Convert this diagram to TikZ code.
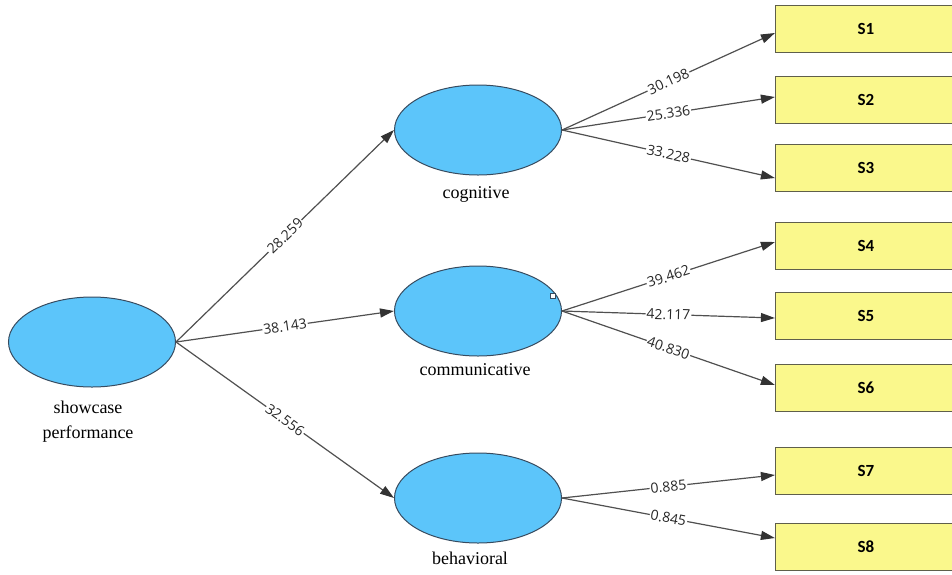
\documentclass[tikz,border=0pt]{standalone}
\usepackage{fontspec}
\setmainfont{Liberation Serif}
\newfontfamily\numfont{Open Sans}
\newfontfamily\boxfont{Carlito}
\usetikzlibrary{shapes.geometric,arrows.meta}
\definecolor{latentblue}{RGB}{92,197,250}
\definecolor{latentedge}{RGB}{55,75,95}
\definecolor{itemyellow}{RGB}{250,248,140}
\definecolor{itemedge}{RGB}{95,95,75}
\definecolor{edgegray}{RGB}{80,80,80}
\tikzset{
  latent/.style={ellipse,draw=latentedge,line width=1pt,fill=latentblue,
    minimum width=167pt,minimum height=90pt,inner sep=0pt},
  item/.style={rectangle,draw=itemedge,line width=1.2pt,fill=itemyellow,
    minimum width=181pt,minimum height=47pt,
    font=\boxfont\bfseries\fontsize{17}{18}\selectfont},
  path/.style={draw=edgegray,line width=1.2pt,
    -{Triangle[length=14pt,width=9pt,color=black!80]}},
  coef/.style={sloped,midway,fill=white,inner sep=1pt,text=black!85,
    font=\numfont\fontsize{14}{16}\selectfont},
  latname/.style={font=\fontsize{18}{25}\selectfont,align=center}
}
\begin{document}
\begin{tikzpicture}[x=1pt,y=-1pt]
\useasboundingbox (0,0) rectangle (952,574);
% latent variables
\node[latent] (show) at(92,342) {};
\node[latent] (cog) at(478,130) {};
\node[latent] (com) at(478,311) {};
\node[latent] (beh) at(478,498) {};
\node[latname] (showtxt) at(88,422) {showcase\\performance};
\node[latname] (cogtxt) at(476,194) {cognitive};
\node[latname] (comtxt) at(475,370) {communicative};
\node[latname] (behtxt) at(470,558) {behavioral};
\node[draw=latentedge,fill=white,minimum size=5pt,inner sep=0pt,line width=.8pt] (mark) at(553,296) {};
% indicators
\node[item] (S1) at(866,29) {S1};
\node[item] (S2) at(866,100) {S2};
\node[item] (S3) at(866,168) {S3};
\node[item] (S4) at(866,246) {S4};
\node[item] (S5) at(866,316) {S5};
\node[item] (S6) at(866,388) {S6};
\node[item] (S7) at(866,471) {S7};
\node[item] (S8) at(866,547) {S8};
% paths
\draw[path] (show.east) -- (cog.west) node[coef] {28.259};
\draw[path] (show.east) -- (com.west) node[coef] {38.143};
\draw[path] (show.east) -- (beh.west) node[coef] {32.556};
\foreach \src/\dst/\dy/\val in {cog/S1/-4/30.198,cog/S2/3/25.336,cog/S3/-10/33.228,
  com/S4/4/39.462,com/S5/-2/42.117,com/S6/3/40.830,beh/S7/-4/0.885,beh/S8/9/0.845}
  \draw[path] (\src.east) -- ([yshift=\dy pt]\dst.west) node[coef] {\val};
\end{tikzpicture}
\end{document}
